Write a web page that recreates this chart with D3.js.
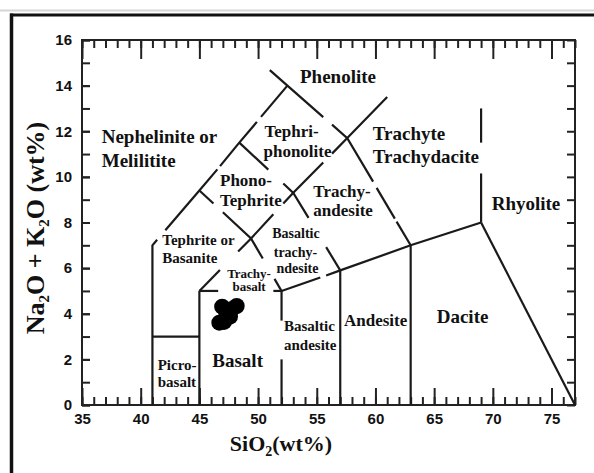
<!DOCTYPE html>
<html>
<head>
<meta charset="utf-8">
<script src="https://cdn.jsdelivr.net/npm/d3@7/dist/d3.min.js"></script>
<style>
  body { margin: 0; background: #fff; }
  .tick text { font-family: "Liberation Sans", Arial, sans-serif; font-weight: bold; font-size: 14px; fill: #111; }
  .tick line { stroke: #222; stroke-width: 2; }
  .field { font-family: "Liberation Serif", "Times New Roman", serif; font-weight: bold; fill: #111; }
</style>
</head>
<body>
<div id="viz"></div>
<script>
// tick labels
var xTickLabels = [35, 40, 45, 50, 55, 60, 65, 70, 75];
var yTickLabels = [0, 2, 4, 6, 8, 10, 12, 14, 16];

// TAS field boundaries, [SiO2, Na2O+K2O], split where the original has gaps
var boundaries = [
  [[41, 0], [41, 7], [41.4, 7.24]],
  [[42.1, 7.66], [45, 9.4], [46.53, 10.33]],
  [[46.76, 10.47], [48.4, 11.5], [49.9, 12.41]],
  [[50.25, 12.63], [52.5, 14]],
  [[51, 14.68], [52.5, 14], [55.55, 12.62]],
  [[56.3, 12.29], [57.6, 11.7], [59.8, 9.79]],
  [[60.1, 9.52], [61.65, 8.17]],
  [[61.8, 8.04], [63, 7]],
  [[45, 5], [46.75, 5.92]],
  [[48.3, 6.73], [49.4, 7.3], [51.3, 8.36]],
  [[52.15, 8.83], [53, 9.3], [55.55, 10.63]],
  [[56.3, 11.02], [57.6, 11.7], [61, 13.5]],
  [[52, 5], [51.4, 5.53]],
  [[50.4, 6.42], [49.4, 7.3], [47.0, 8.45]],
  [[46.2, 8.83], [45, 9.4]],
  [[48.4, 11.5], [50.87, 10.32]],
  [[52.15, 9.71], [53, 9.3], [54.3, 8.2]],
  [[55.8, 6.92], [57, 5.9]],
  [[52, 5], [55.3, 5.59]],
  [[55.8, 5.68], [57, 5.9], [63, 7], [69, 8]],
  [[45, 5], [46.6, 5]],
  [[51.3, 5], [52, 5]],
  [[41, 3], [45, 3]],
  [[45, 0], [45, 5]],
  [[52, 0], [52, 2.0]],
  [[52, 3.7], [52, 5]],
  [[57, 0], [57, 5.9]],
  [[63, 0], [63, 7]],
  [[69, 8], [77, 0]],
  [[69, 8], [69, 10.15]],
  [[69, 11.5], [69, 13]]
];

// field names, one entry per text line
var fieldText = ["Nephelinite or", "Melilitite", "Phenolite", "Tephri-", "phonolite",
  "Trachyte", "Trachydacite", "Phono-", "Tephrite", "Trachy-", "andesite",
  "Tephrite or", "Basanite", "Basaltic", "trachy-", "ndesite", "Trachy-", "basalt",
  "Basaltic", "andesite", "Andesite", "Dacite", "Rhyolite", "Basalt", "Picro-", "basalt"];
var fieldSiO2 = [36.68, 36.68, 53.57, 52.86, 53.36,
  59.77, 59.77, 46.76, 46.76, 54.71, 54.71,
  41.84, 41.84, 53.23, 53.19, 53.36, 49.23, 49.23,
  52.21, 52.21, 57.32, 65.22, 69.90, 46.10, 41.45, 41.45];
var fieldAlk = [11.50, 10.45, 14.13, 11.75, 10.87,
  11.62, 10.60, 9.60, 8.72, 9.13, 8.29,
  7.01, 6.21, 7.31, 6.50, 5.77, 5.58, 4.99,
  3.26, 2.41, 3.46, 3.58, 8.55, 1.68, 1.53, 0.80];
var fieldSize = [19, 19, 19, 17, 17, 19, 19, 17, 17, 17, 17, 15, 15, 14, 14, 14, 13, 13, 15, 15, 17, 19, 19, 19, 15, 15];
var fieldAnchor = ["start", "start", "start", "middle", "middle", "start", "start", "start", "start", "start", "start",
  "start", "start", "middle", "middle", "middle", "middle", "middle", "start", "start", "start", "start", "start", "start", "start", "start"];

// samples
var sampleSiO2 = [46.94, 48.18, 47.61, 46.70, 47.27, 47.78, 47.10];
var sampleAlk = [4.31, 4.34, 3.87, 3.61, 4.08, 4.21, 3.64];

var w = 594,
    h = 473;

var svg = d3.select("#viz").append("svg")
    .attr("width", w)
    .attr("height", h);

// outer border of the figure
svg.append("line").attr("x1", 0).attr("x2", w).attr("y1", 10.5).attr("y2", 10.5)
    .style("stroke", "#d6d6d6").style("stroke-width", 2);
svg.append("line").attr("x1", 10).attr("x2", w).attr("y1", 15).attr("y2", 15)
    .style("stroke", "#111").style("stroke-width", 3);
svg.append("line").attr("x1", 11.5).attr("x2", 11.5).attr("y1", 13.5).attr("y2", h)
    .style("stroke", "#111").style("stroke-width", 3.5);

var x = d3.scaleLinear().domain([35, 77]).range([82, 575]);
var y = d3.scaleLinear().domain([0, 16]).range([405, 40]);

var minorX = d3.range(35, 78, 1),
    minorY = d3.range(0, 17, 1);

function noDomain(g) { g.select(".domain").remove(); }

// bottom
svg.append("g").attr("transform", "translate(0,405)")
    .call(d3.axisBottom(x).tickValues(minorX).tickSize(-8).tickFormat(""))
    .call(noDomain);
svg.append("g").attr("transform", "translate(0,405)")
    .call(d3.axisBottom(x).tickValues(xTickLabels).tickSize(-17).tickPadding(8))
    .call(noDomain)
    .selectAll("text").style("font-size", "15px");
// top
svg.append("g").attr("transform", "translate(0,40)")
    .call(d3.axisTop(x).tickValues(minorX).tickSize(-8).tickFormat(""))
    .call(noDomain);
svg.append("g").attr("transform", "translate(0,40)")
    .call(d3.axisTop(x).tickValues(xTickLabels).tickSize(-19).tickFormat(""))
    .call(noDomain);
// left
svg.append("g").attr("transform", "translate(82,0)")
    .call(d3.axisLeft(y).tickValues(minorY).tickSize(-8).tickFormat(""))
    .call(noDomain);
svg.append("g").attr("transform", "translate(82,0)")
    .call(d3.axisLeft(y).tickValues(yTickLabels).tickSize(-8).tickPadding(10))
    .call(noDomain)
    .selectAll("text").style("font-size", "15px");
// right
svg.append("g").attr("transform", "translate(575,0)")
    .call(d3.axisRight(y).tickValues(minorY).tickSize(-8).tickFormat(""))
    .call(noDomain);

// plot frame
svg.append("rect")
    .attr("x", x(35)).attr("y", y(16))
    .attr("width", x(77) - x(35)).attr("height", y(0) - y(16))
    .style("fill", "none").style("stroke", "#222").style("stroke-width", 2);

var line = d3.line()
    .x(function(d) { return x(d[0]); })
    .y(function(d) { return y(d[1]); });

svg.append("g").selectAll("path")
    .data(boundaries)
    .enter().append("path")
    .attr("d", line)
    .style("fill", "none")
    .style("stroke", "#1a1a1a")
    .style("stroke-width", 2.2);

svg.append("g").selectAll("text")
    .data(fieldText)
    .enter().append("text")
    .attr("class", "field")
    .attr("x", function(d, i) { return x(fieldSiO2[i]); })
    .attr("y", function(d, i) { return y(fieldAlk[i]); })
    .attr("text-anchor", function(d, i) { return fieldAnchor[i]; })
    .style("font-size", function(d, i) { return fieldSize[i] + "px"; })
    .text(function(d) { return d; });

svg.append("g").selectAll("circle")
    .data(sampleSiO2)
    .enter().append("circle")
    .attr("cx", function(d) { return x(d); })
    .attr("cy", function(d, i) { return y(sampleAlk[i]); })
    .attr("r", 8)
    .style("fill", "#000");

// axis titles
var xt = svg.append("text")
    .attr("class", "field")
    .attr("x", 281).attr("y", 451)
    .attr("text-anchor", "middle")
    .style("font-size", "22px");
xt.append("tspan").text("SiO");
xt.append("tspan").attr("dy", 5).style("font-size", "14px").text("2");
xt.append("tspan").attr("dy", -5).text("(wt%)");

var yt = svg.append("text")
    .attr("class", "field")
    .attr("transform", "translate(44,228) rotate(-90)")
    .attr("text-anchor", "middle")
    .style("font-size", "26px");
yt.append("tspan").text("Na");
yt.append("tspan").attr("dy", 5).style("font-size", "15px").text("2");
yt.append("tspan").attr("dy", -5).text("O + K");
yt.append("tspan").attr("dy", 5).style("font-size", "15px").text("2");
yt.append("tspan").attr("dy", -5).text("O (wt%)");
</script>
</body>
</html>
